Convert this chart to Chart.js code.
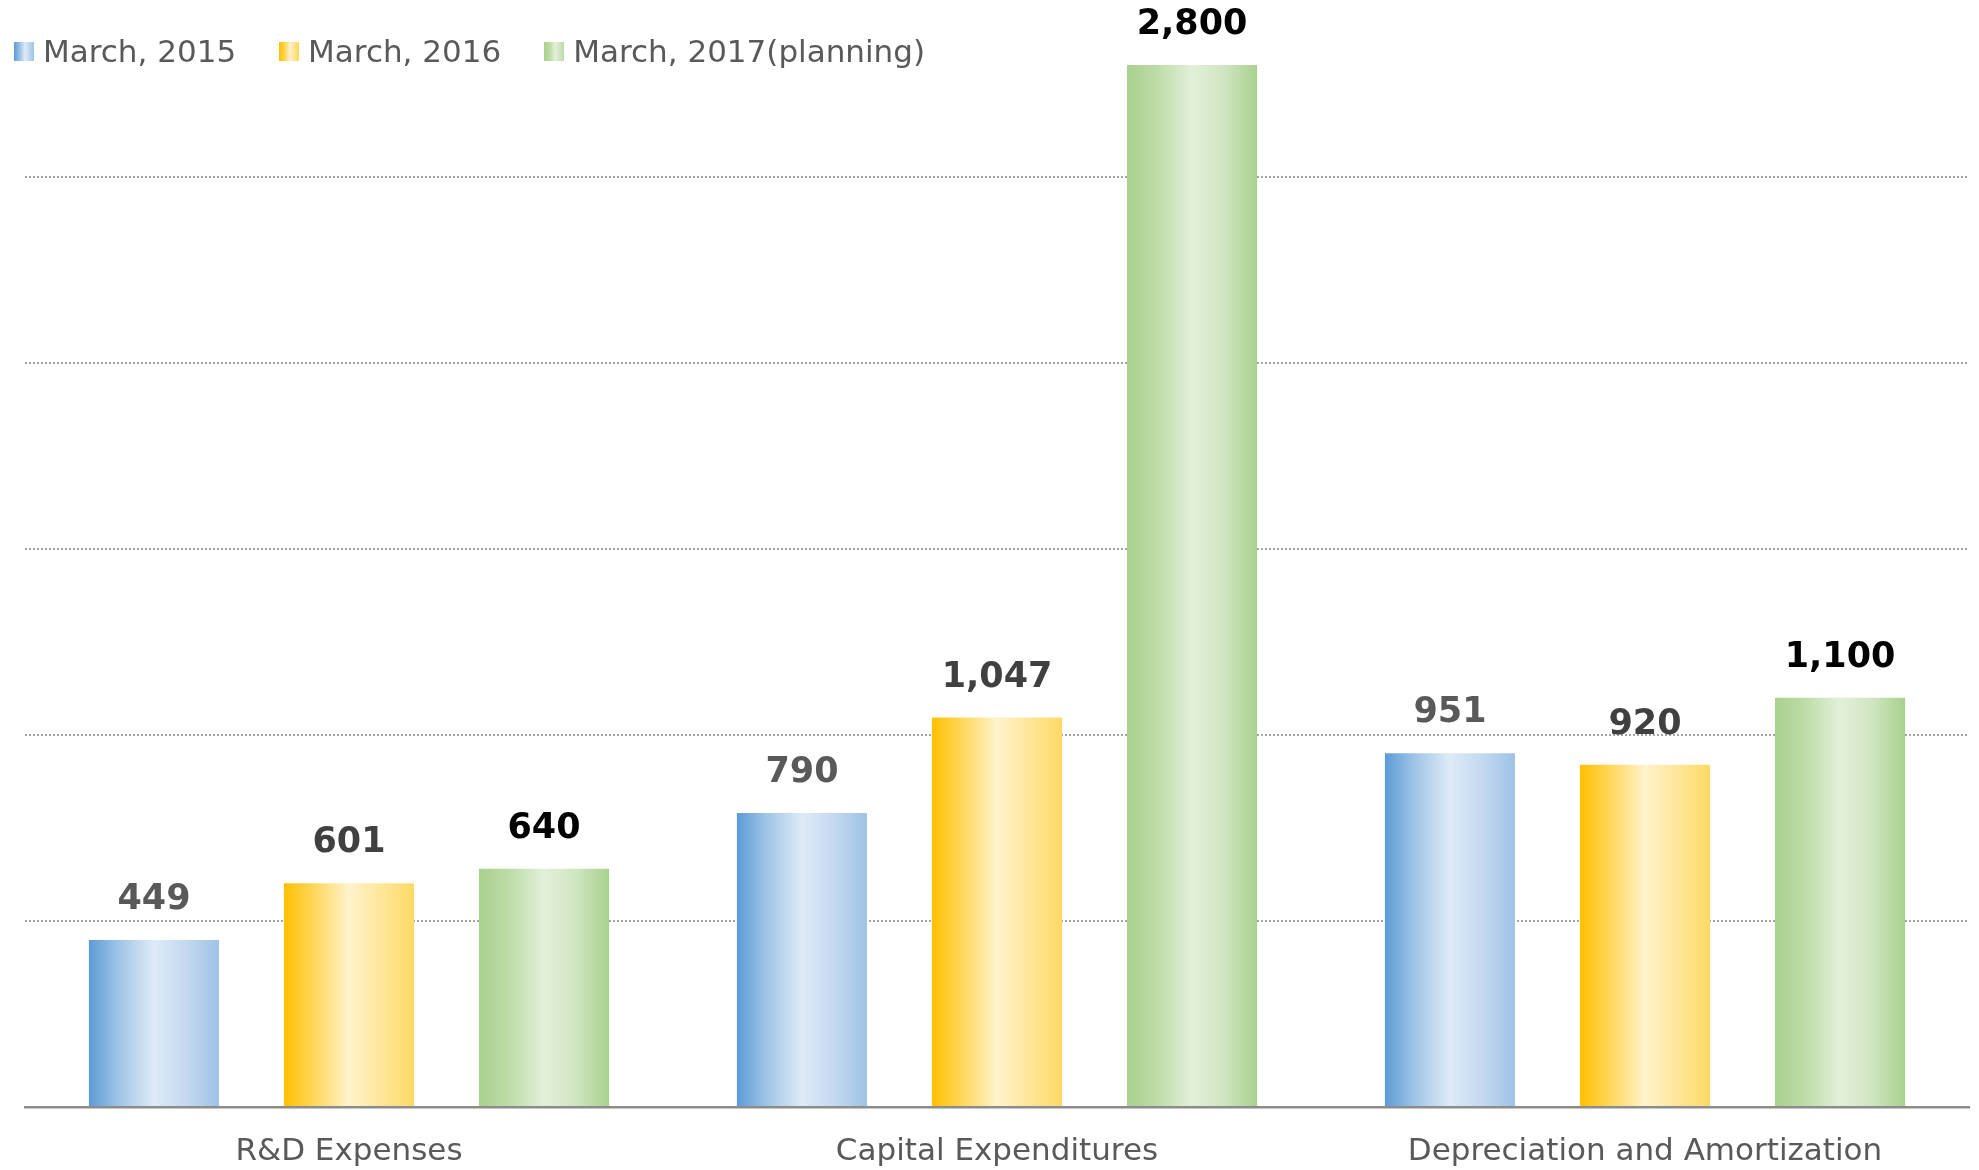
<!DOCTYPE html>
<html>
<head>
<meta charset="utf-8">
<script src="https://cdn.jsdelivr.net/npm/chart.js@4.4.0/dist/chart.umd.min.js"></script>
<style>
  html, body { margin: 0; padding: 0; background: #ffffff; }
  #wrap { position: relative; width: 1979px; height: 1170px; }
  #legend { position: absolute; left: 14px; top: 33px; display: flex; align-items: center; line-height: 36px;
            font-family: "DejaVu Sans", sans-serif; font-size: 31px; color: #595959; }
  .item { display: flex; align-items: center; margin-right: 43px; }
  .sw { width: 20px; height: 19px; margin-right: 9px; }
</style>
</head>
<body>
<div id="wrap">
  <canvas id="c" width="1979" height="1170"></canvas>
  <div id="legend"></div>
</div>
<script>
const categories = ['R&D Expenses', 'Capital Expenditures', 'Depreciation and Amortization'];
const seriesNames = ['March, 2015', 'March, 2016', 'March, 2017(planning)'];
const march2015 = [449, 790, 951];
const march2016 = [601, 1047, 920];
const march2017 = [640, 2800, 1100];
const gridValues = [0, 500, 1000, 1500, 2000, 2500];
const axisMax = 2975;

const gradStops = [
  ['#5b9bd5', '#9dc3e6', '#deebf7', '#c3d8ef', '#9dc3e6'],
  ['#ffc000', '#ffd656', '#fff2cc', '#ffe699', '#ffd966'],
  ['#a9d18e', '#bcdba6', '#e2f0d9', '#cfe5c0', '#a9d18e']
];
const labelColors = ['#595959', '#404040', '#000000'];

const CAT_PCT = 0.903, BAR_PCT = 0.667;

function makeGrad(ctx, x0, x1, stops) {
  const g = ctx.createLinearGradient(x0, 0, x1, 0);
  g.addColorStop(0, stops[0]);
  g.addColorStop(0.22, stops[1]);
  g.addColorStop(0.5, stops[2]);
  g.addColorStop(0.75, stops[3]);
  g.addColorStop(1, stops[4]);
  return g;
}

function barFill(c) {
  const chart = c.chart;
  const xs = chart.scales.x;
  const stops = gradStops[c.datasetIndex];
  if (!xs || !chart.chartArea || c.dataIndex === undefined) return stops[2];
  const center = xs.getPixelForValue(c.dataIndex);
  const catW = (xs.right - xs.left) / categories.length;
  const group = catW * CAT_PCT;
  const slot = group / 3;
  const bw = slot * BAR_PCT;
  const left = center - group / 2 + slot * c.datasetIndex + (slot - bw) / 2;
  return makeGrad(chart.ctx, left, left + bw, stops);
}

// HTML legend
const legendEl = document.getElementById('legend');
seriesNames.forEach((n, i) => {
  const it = document.createElement('div'); it.className = 'item';
  const sw = document.createElement('div'); sw.className = 'sw';
  const s = gradStops[i];
  sw.style.background = `linear-gradient(to right, ${s[0]}, ${s[1]} 30%, ${s[2]} 55%, ${s[1]})`;
  const t = document.createElement('span'); t.textContent = n;
  it.appendChild(sw); it.appendChild(t); legendEl.appendChild(it);
});

const valueLabels = {
  id: 'valueLabels',
  afterDatasetsDraw(chart) {
    const ctx = chart.ctx;
    ctx.save();
    ctx.font = 'bold 35px "DejaVu Sans", sans-serif';
    ctx.textAlign = 'center';
    ctx.textBaseline = 'middle';
    chart.data.datasets.forEach((ds, di) => {
      const meta = chart.getDatasetMeta(di);
      meta.data.forEach((el, i) => {
        ctx.fillStyle = labelColors[di];
        ctx.fillText(ds.data[i].toLocaleString('en-US'), el.x, el.y - 40);
      });
    });
    ctx.restore();
  }
};

const seriesData = [march2015, march2016, march2017];

new Chart(document.getElementById('c'), {
  type: 'bar',
  data: {
    labels: categories,
    datasets: seriesNames.map((n, i) => ({
      label: n,
      data: seriesData[i],
      backgroundColor: barFill,
      borderWidth: 0,
      categoryPercentage: CAT_PCT,
      barPercentage: BAR_PCT
    }))
  },
  options: {
    responsive: false,
    animation: false,
    layout: { padding: { left: 25, right: 10, top: 0, bottom: 1 } },
    plugins: { legend: { display: false }, tooltip: { enabled: false } },
    scales: {
      x: {
        grid: { display: true, drawOnChartArea: false, drawTicks: false },
        border: { display: true, color: '#8c8c8c', width: 2.5, z: 1 },
        ticks: { color: '#595959', padding: 26, font: { family: '"DejaVu Sans", sans-serif', size: 31 } },
        afterFit: (s) => { s.height = 62; }
      },
      y: {
        min: 0,
        max: axisMax,
        afterBuildTicks: (s) => { s.ticks = gridValues.map(v => ({ value: v })); },
        ticks: { display: false },
        border: { display: false, dash: [2, 2] },
        grid: {
          display: true,
          drawTicks: false,
          lineWidth: 2,
          color: '#a3a3a3'
        }
      }
    }
  },
  plugins: [valueLabels]
});
</script>
</body>
</html>
